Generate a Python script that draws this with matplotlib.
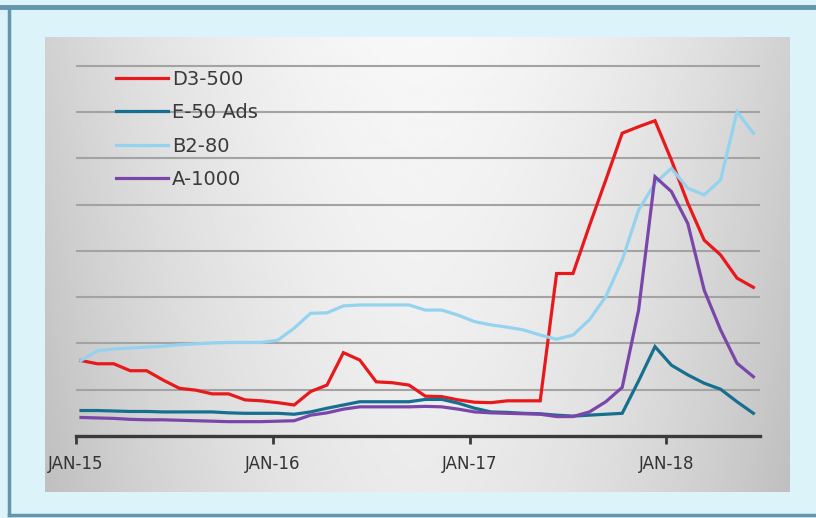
import matplotlib.pyplot as plt
from matplotlib.lines import Line2D
import numpy as np

# monthly values, Jan-15 .. Jun-18
d3_500 = [1.63, 1.56, 1.56, 1.41, 1.41, 1.21, 1.03, 0.99, 0.91, 0.91,
          0.78, 0.76, 0.72, 0.67, 0.96, 1.10, 1.80, 1.64, 1.17, 1.15,
          1.10, 0.86, 0.85, 0.78, 0.73, 0.72, 0.76, 0.76, 0.76, 3.51,
          3.51, 4.54, 5.53, 6.54, 6.68, 6.81, 5.96, 5.03, 4.23, 3.91,
          3.41, 3.21]
e_50_ads = [0.55, 0.55, 0.54, 0.53, 0.53, 0.52, 0.52, 0.52, 0.52, 0.50,
            0.49, 0.49, 0.49, 0.47, 0.52, 0.60, 0.67, 0.74, 0.74, 0.74,
            0.74, 0.79, 0.79, 0.71, 0.60, 0.52, 0.51, 0.49, 0.48, 0.45,
            0.43, 0.45, 0.47, 0.49, 1.19, 1.93, 1.53, 1.32, 1.14, 1.01,
            0.74, 0.49]
b2_80 = [1.63, 1.84, 1.88, 1.90, 1.92, 1.94, 1.97, 1.99, 2.01, 2.02,
         2.02, 2.02, 2.07, 2.33, 2.65, 2.66, 2.81, 2.83, 2.83, 2.83,
         2.83, 2.72, 2.72, 2.61, 2.47, 2.40, 2.35, 2.29, 2.18, 2.09,
         2.18, 2.51, 3.01, 3.80, 4.88, 5.46, 5.78, 5.35, 5.21, 5.53,
         7.00, 6.54]
a_1000 = [0.40, 0.39, 0.38, 0.36, 0.35, 0.35, 0.34, 0.33, 0.32, 0.31,
          0.31, 0.31, 0.32, 0.33, 0.45, 0.50, 0.58, 0.63, 0.63, 0.63,
          0.63, 0.64, 0.63, 0.58, 0.52, 0.50, 0.49, 0.48, 0.47, 0.42,
          0.42, 0.52, 0.74, 1.05, 2.72, 5.60, 5.28, 4.59, 3.15, 2.29,
          1.57, 1.28]

series_names = ["D3-500", "E-50 Ads", "B2-80", "A-1000"]
series_colors = ["#e8191c", "#176f8f", "#93d3f0", "#7b46aa"]
tick_labels = ["JAN-15", "JAN-16", "JAN-17", "JAN-18"]

W, H = 816, 518
fig = plt.figure(figsize=(W / 100, H / 100), dpi=100)
fig.patch.set_facecolor("#dcf3fa")

# outer frame lines
frame_col = "#6396ad"
fig.add_artist(Line2D([0, 1], [1 - 7 / H, 1 - 7 / H], color=frame_col, lw=3.5))
fig.add_artist(Line2D([8.5 / W, 8.5 / W], [3 / H, 1 - 7 / H], color=frame_col, lw=2.5))
fig.add_artist(Line2D([8.5 / W, 1], [3 / H, 3 / H], color=frame_col, lw=2.5))

# gray gradient panel
px0, px1, py0, py1 = 45, 790, 37, 492
bg = fig.add_axes([px0 / W, 1 - py1 / H, (px1 - px0) / W, (py1 - py0) / H])
gx = np.linspace(-1, 1, 300)
gy = np.linspace(0, 1, 200)
X, Y = np.meshgrid(gx, gy)
shade = 0.97 - 0.15 * np.abs(X) ** 1.8 - 0.05 * Y - 0.02 * np.abs(X) * Y
bg.imshow(shade, cmap="gray", vmin=0, vmax=1, aspect="auto",
          extent=[0, 1, 0, 1], origin="upper")
bg.axis("off")

# main chart axes
x0_px, x1_px, y0_px = 76, 760, 436
unit = 46.3
ymax = 8.5
month_px = 16.4
first_px = 81
ax = fig.add_axes([x0_px / W, 1 - y0_px / H, (x1_px - x0_px) / W,
                   ymax * unit / H])
ax.patch.set_alpha(0)

months = np.arange(len(d3_500))
for vals, name, col in zip([d3_500, e_50_ads, b2_80, a_1000],
                           series_names, series_colors):
    ax.plot(months, vals, color=col, lw=2.3, label=name,
            solid_joinstyle="miter", zorder=3)

xmin = -(first_px - x0_px) / month_px
xmax = xmin + (x1_px - x0_px) / month_px
ax.set_xlim(xmin, xmax)
ax.set_ylim(0, ymax)

for v in range(1, 9):
    ax.axhline(v, color="#a3a3a3", lw=1.5, zorder=1)

ax.set_xticks([xmin + 12 * k for k in range(4)])
ax.set_xticklabels(tick_labels, fontsize=12, color="#333333")
ax.set_yticks([])
for s in ["top", "right", "left"]:
    ax.spines[s].set_visible(False)
ax.spines["bottom"].set_color("#3a3a3a")
ax.spines["bottom"].set_linewidth(2.4)
ax.tick_params(axis="x", direction="out", length=6, width=2,
               color="#3a3a3a", pad=8)

leg = ax.legend(loc="upper left", bbox_to_anchor=(22 / (x1_px - x0_px), 0.975),
                frameon=False, handlelength=2.7, handletextpad=0.2,
                labelspacing=0.74, prop={"size": 14})
for t in leg.get_texts():
    t.set_color("#3a3a3a")

plt.savefig("out.png", dpi=100, facecolor=fig.get_facecolor())
